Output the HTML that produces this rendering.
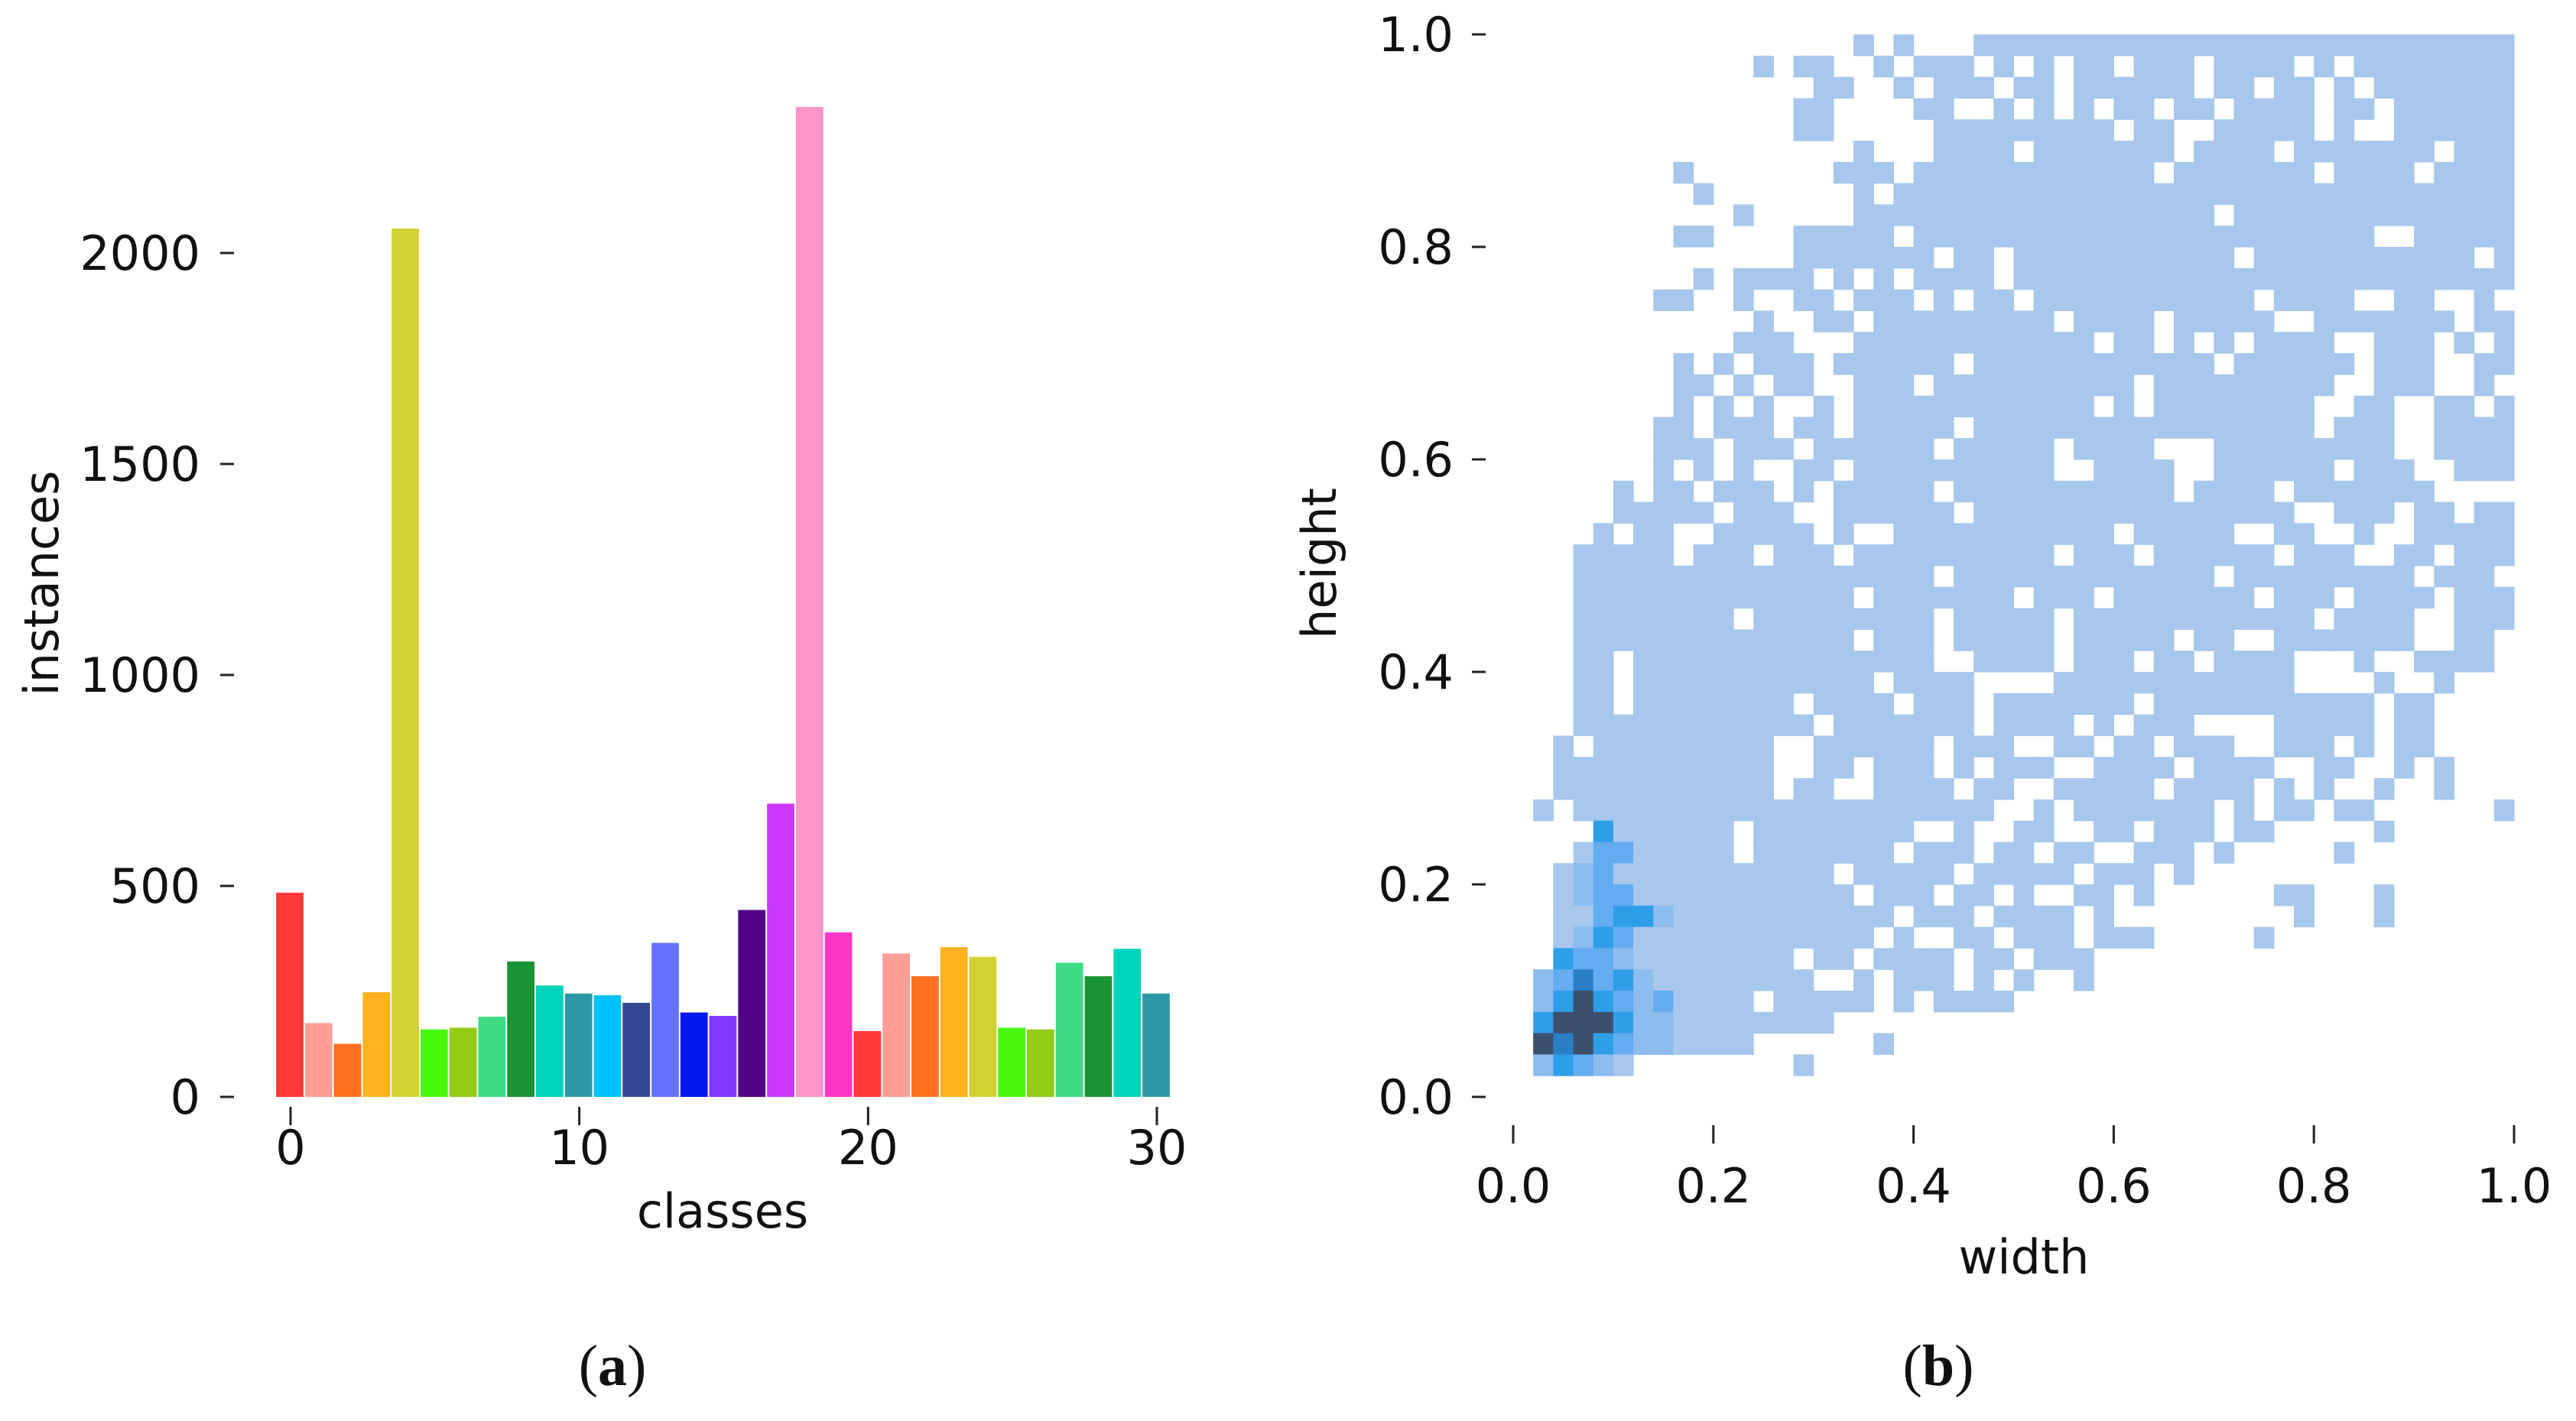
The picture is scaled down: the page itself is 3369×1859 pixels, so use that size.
<!DOCTYPE html>
<html><head><meta charset="utf-8">
<style>
html,body{margin:0;padding:0;background:#fff;}
svg{display:block;}
text{font-family:"DejaVu Sans","Liberation Sans",sans-serif;fill:#111;}
.cap{font-family:"Liberation Serif",serif;}
</style></head>
<body>
<svg id="fig" width="3369" height="1859" viewBox="0 0 3369 1859" xmlns="http://www.w3.org/2000/svg">
<g id="left"></g>
<g id="right"></g>
<text class="cap" x="801" y="1812" font-size="76" text-anchor="middle">(<tspan font-weight="bold">a</tspan>)</text>
<text class="cap" x="2535" y="1812" font-size="76" text-anchor="middle">(<tspan font-weight="bold">b</tspan>)</text>
</svg>
<script>
// ---- bar chart data ----
const classes = [0,1,2,3,4,5,6,7,8,9,10,11,12,13,14,15,16,17,18,19,20,21,22,23,24,25,26,27,28,29,30];
const instances = [484,175,126,248,2058,160,164,190,321,264,245,241,223,365,200,192,443,695,2346,390,156,340,286,355,332,164,160,318,286,351,245];
const barColors = ["#FF3838","#FF9D97","#FF701F","#FFB21D","#CFD231","#48F90A","#92CC17","#3DDB86","#1A9334","#00D4BB","#2C99A8","#00C2FF","#344593","#6473FF","#0018EC","#8438FF","#520085","#CB38FF","#FF95C8","#FF37C7"];
const yTicks = [0,500,1000,1500,2000];
const xTicks = [0,10,20,30];

// ---- heatmap data (rows top->bottom, bins 0.98..0.02; cols bins 0.02..0.98) ----
const heatRows = [
"................a.a...aaaaaaaaaaaaaaaaaaaaaaaaaaa",
"...........a.aa..a.aaa.a.a.aa.aaa.aaaa.a.aaaaaaaa",
"..............aa..a.aaa.aa.aaaaaa.aa.aa.a.aaaaaaa",
".............aa....aa..a.a.a.aa.aa.aaaa.aa.aaaaaa",
".............aa.....aaaaaaaaa.aa..aaaaa.a..aaaaaaa",
"................a...aaaa.aaaaaaa.aaaa.aaaaaaa.aaaa.",
".......a.......aaa.aaaaaaaaaaaa.aaaaaaa.aaaa.aaaaa",
"........a.......a.aaaaaaaaaaaaaaaaaaaaaaaaaaaaaaaa",
"..........a.....aaaaaaaaaaaaaaaaaa.aaaaaaaaaaaaaa",
".......aa....aaaaa.aaaaaaaaaaaaaaaaaaaaaaa..aaaaa",
".............aaaaaaa.aa.aaaaaaaaaaa.aaaaaaaaaaa.a",
"........a.aaaa.a.a.aaaa.aaaaaaaaaaaaaaaaaaaaaaaaa",
"......aa..a..aa.aaa.a.aa.aaaaaaaaaaa.aaaa..aa..a.",
"...........a..aa.aaaaaaaaa.aaaa.aaaaa..aaaaaaa.aa",
"..........aaa...aaaaaaaaaaaa.aa.a.a.aaaa..aaa.a.aaa",
".......a.a.aaa.aaaaaa.aaaaaaaaaaaa.aaaaaa.aaa..aa",
".......aa.a.aa..aaa.aaaaaaaaaa.aaaaaaaaa..aaa..a.a",
".......a.a.a..a.aaaaaaaaaaaa.a.aaaaaaaa..aa..aa.aa",
"......aa.aaa.aa.aaaaa.aaaaaaaaaaaaaaaaa.aaa..aaaaa",
"......aaa.aaa.aaaaaa.aaaaa.aaaa...aaaaaaaaa..aaaa.",
"......a.a.a..aa.aaaaaaaaaa..aaaa..aaaaaa.aaa..aaaa",
"....a.aa.aaa.a.aaaaa.aaaaaaaaaaa.aaaa.aaaaaaa.....",
"....aaaaa.aaa..aaaaaa.aaaaaaaaaaaaaaaa..aaa.aa.aa.",
"...a.aa..aaaaa.a..aaaaaaaaaaa.aaaaa..aa..a..aaaaa.",
"..aaaaa.aaa.aaa.aaaaaaaaaa.aaa.aaaaaa.aaa..aa.aaa.",
"..aaaaaaaaaaaaaaaaaa.aaaaaaaaaaaaa.aaaaaaaaa.aaa..",
"..aaaaaaaaaaaaaa.aaaaaaa.aaa.aaaaaaa.aaa.aaaa.aaa",
"..aaaaaaaa.aaaaaaaaa.aaaaa.aaaaaaaaaaaa.aaaa..aaa.",
"..aaaaaaaaaaaaaa.aaa.aaaaa.aaaaa.aa..aaaaaaa..aa..",
"..aa.aaaaaaaaaaaaaaa..aaaa.aaa.aa.aaaa...a..aaaa..",
"..aa.aaaaaaaaaaaa.aaaa....aaaaaaaaaaaa....a..a...a",
"..aa.aaaaaaaa.aaaa.aaa.aaaaaaa.aaaaaaaaaaa.aa.....",
"..aaaaaaaaaaaa.aaaaaaa.aaaa.a.aaa....aaaaa.aa....a",
".a.aaaaaaaaa..aaaaaa.aaa..aa.aa.aaa..aaa.a.aa.....",
".aaaaaaaaaaa..aa.aaa.a.aaa..aaaa.aaaa..aa..a.a....",
".aaaaaaaaaaa.aa..aaaa.aa..aaaaa.aaaa.a.a..a..a....",
"a.aaaaaaaaaaaaaaaaaaaaa..a.aaaaaaa.a.aa.aa......a.",
"...aaaaaaa.aaaaaaaa..a..aa..aa.aaa.aa.....a.......",
"..aaaaaaaa.aaaaaaa.aaa.aa.aa..aaa.a.....a.........",
".aaaaaaaaaaaaaa.aaaaa.aaaaa.aaa.a................",
".aaaaaaaaaaaaaaa.aaa.aa.a..aa.a......aa...a......",
".aaaaaaaaaaaaaaaaa.aaa.aaaa.a.........a...a......",
".aaaaaaaaaaaaaaaa.a..aa.aaa.aaa.....a.............",
".aaaaaaaaaaaa.aa.aaaa.aa.aaa......................",
"aaaaaaaaaaaaaa..a.aaa.a.a..a......................",
"aaaaaaaaaaa.aaaaa.a.aaaa.........................",
"aaaaaaaaaaaaaaa..................................",
"aaaaaaaaaaa......a...............................",
"aaaaa........a..................................."
];
// [row, col, level] denser bins near origin
const hotCells = [
[48,0,"b"],[48,1,"d"],[48,2,"c"],[48,3,"b"],
[47,0,"f"],[47,1,"e"],[47,2,"f"],[47,3,"d"],[47,4,"c"],[47,5,"b"],[47,6,"b"],
[46,0,"d"],[46,1,"f"],[46,2,"f"],[46,3,"f"],[46,4,"d"],[46,5,"b"],[46,6,"b"],
[45,0,"b"],[45,1,"d"],[45,2,"f"],[45,3,"d"],[45,4,"c"],[45,5,"b"],[45,6,"c"],
[44,0,"b"],[44,1,"c"],[44,2,"e"],[44,3,"c"],[44,4,"d"],[44,5,"b"],
[43,1,"d"],[43,2,"c"],[43,3,"c"],[43,4,"b"],
[42,3,"d"],[42,4,"c"],[42,2,"b"],
[41,3,"c"],[41,4,"d"],[41,5,"d"],[41,6,"b"],
[40,2,"b"],[40,3,"c"],[40,4,"c"],
[39,2,"b"],[39,3,"c"],[38,3,"c"],[38,4,"c"],[37,3,"d"]
];
const levelColors = {a:"#A7C7ED",b:"#8DBCEF",c:"#63ACEF",d:"#2F9EE9",e:"#2B7FC4",f:"#3C4F6D"};
const hTicks = [0.0,0.2,0.4,0.6,0.8,1.0];
const hTickLabels = ["0.0","0.2","0.4","0.6","0.8","1.0"];

const NS="http://www.w3.org/2000/svg";
function mk(tag, attrs, parent){const e=document.createElementNS(NS,tag);for(const k in attrs)e.setAttribute(k,attrs[k]);parent.appendChild(e);return e;}

// ---- left chart ----
const L=document.getElementById('left');
const bx0=380, bx30=1513, by0=1435, by2000=331;
const xB=v=>bx0+(v-0)*(bx30-bx0)/30;
const yB=v=>by0-(v)*(by0-by2000)/2000;
const bw=(bx30-bx0)/30;
classes.forEach((c,i)=>{
  const r=mk('rect',{x:xB(c)-bw/2,y:yB(instances[i]),width:bw-2,height:yB(0)-yB(instances[i]),fill:barColors[i%barColors.length]},L);
  
  
});
yTicks.forEach(t=>{
  const ln=mk('line',{x1:288,x2:306,y1:yB(t),y2:yB(t),stroke:'#222','stroke-width':3},L);
  
  
  const tx=mk('text',{x:262,y:yB(t)+22,'font-size':62,'text-anchor':'end'},L);
  tx.textContent=t;
  
  
});
xTicks.forEach(t=>{
  const ln=mk('line',{x1:xB(t),x2:xB(t),y1:1448,y2:1472,stroke:'#222','stroke-width':3},L);
  
  
  const tx=mk('text',{x:xB(t),y:1523,'font-size':62,'text-anchor':'middle'},L);
  tx.textContent=t;
  
  
});
let t1=mk('text',{x:945,y:1606,'font-size':62,'text-anchor':'middle'},L);t1.textContent='classes';


let t2=mk('text',{x:0,y:0,'font-size':62,'text-anchor':'middle',transform:'translate(76,763) rotate(-90)'},L);t2.textContent='instances';



// ---- right chart ----
const R=document.getElementById('right');
const hx0=1979, hx1=3288, hy0=1435, hy1=45;
const xH=v=>hx0+v*(hx1-hx0);
const yH=v=>hy0-v*(hy0-hy1);
const grid=[];
heatRows.forEach((s,r)=>{const row=[];for(let c=0;c<49;c++){row.push(s[c]&&s[c]!=='.'?s[c]:null);}grid.push(row);});
hotCells.forEach(h=>{grid[h[0]][h[1]]=h[2];});
grid.forEach((row,r)=>{
  row.forEach((lv,c)=>{
    if(!lv)return;
    const xv=(c+1)*0.02, yv=(49-r)*0.02;
    const x1=xH(xv), x2=xH(xv+0.02), y1=yH(yv+0.02), y2=yH(yv);
    const rc=mk('rect',{x:x1,y:y1,width:x2-x1+0.6,height:y2-y1+0.6,fill:levelColors[lv]},R);
    
    
  });
});
hTicks.forEach((t,i)=>{
  const lx=mk('line',{x1:xH(t),x2:xH(t),y1:1472,y2:1496,stroke:'#222','stroke-width':3},R);
  
  
  const tx=mk('text',{x:xH(t),y:1573,'font-size':62,'text-anchor':'middle'},R);
  tx.textContent=hTickLabels[i];
  
  
  const ly=mk('line',{x1:1925,x2:1943,y1:yH(t),y2:yH(t),stroke:'#222','stroke-width':3},R);
  
  
  const ty=mk('text',{x:1901,y:yH(t)+22,'font-size':62,'text-anchor':'end'},R);
  ty.textContent=hTickLabels[i];
  
  
});
let t3=mk('text',{x:2647,y:1666,'font-size':62,'text-anchor':'middle'},R);t3.textContent='width';


let t4=mk('text',{x:0,y:0,'font-size':62,'text-anchor':'middle',transform:'translate(1747,737) rotate(-90)'},R);t4.textContent='height';


</script>
</body></html>
